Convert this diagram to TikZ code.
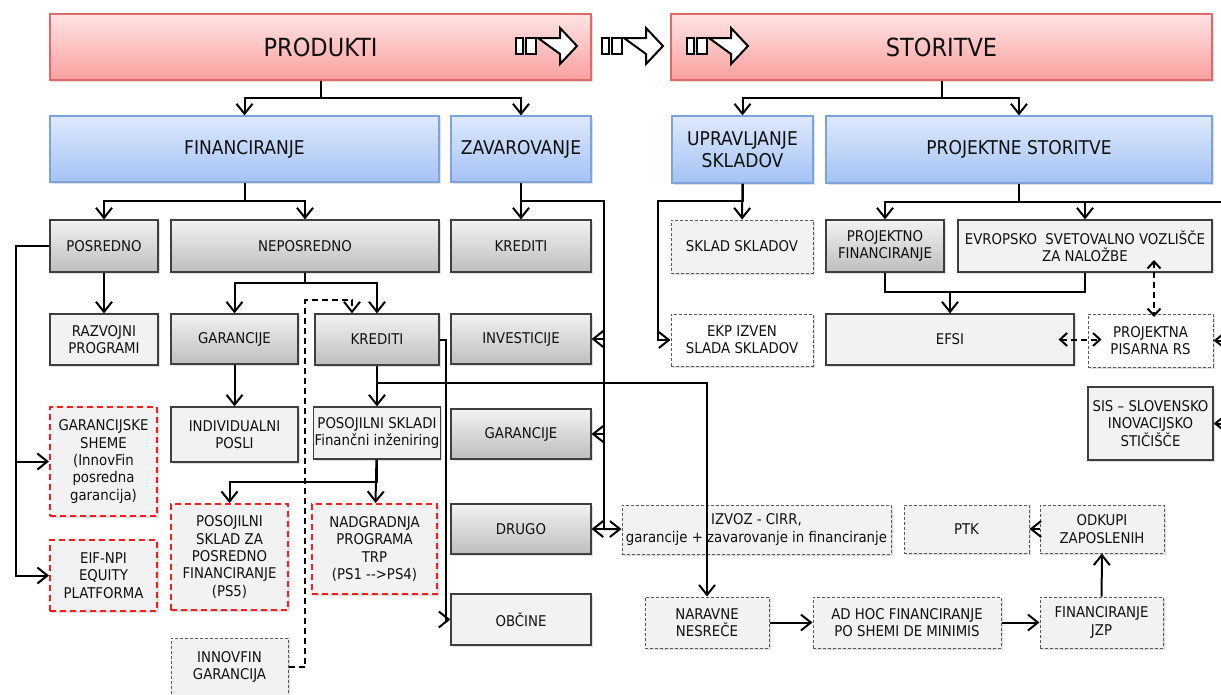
\documentclass[tikz,border=0pt]{standalone}
\usepackage{fontspec}
\setmainfont{DejaVu Sans Condensed}
\usepackage{tikz}
\usetikzlibrary{arrows.meta,shadows}
\usepackage{xcolor}

\definecolor{pinktop}{HTML}{FFE3E3}
\definecolor{pinkbot}{HTML}{FBA0A0}
\definecolor{pinkline}{HTML}{E06A6A}
\definecolor{bluetop}{HTML}{DEE9FC}
\definecolor{bluebot}{HTML}{A4C2F4}
\definecolor{blueline}{HTML}{7EA3DA}
\definecolor{graytop}{HTML}{F2F2F2}
\definecolor{graybot}{HTML}{BEBEBE}
\definecolor{boxline}{HTML}{3F3F3F}
\definecolor{boxfill}{HTML}{F2F2F2}
\definecolor{dashline}{HTML}{5A5A5A}
\definecolor{reddash}{HTML}{FF1A1A}
\definecolor{txt}{HTML}{101010}

\newcommand{\blockarrow}[2]{%
  \begin{scope}[shift={(#1,#2)}]
    \draw[arrowsym] (0,-8) rectangle (7,8);
    \draw[arrowsym] (10,-8) rectangle (20,8);
    \draw[arrowsym] (22,-8) -- (44,-8) -- (44,-18) -- (61,0) -- (44,18) -- (44,8) -- cycle;
  \end{scope}}

\begin{document}
\begin{tikzpicture}[x=1pt,y=-1pt,
    base/.style={rectangle, align=center, inner sep=1pt, text=txt,
      font=\fontsize{14.8}{17.4}\selectfont,
      drop shadow={shadow xshift=2pt,shadow yshift=-2pt,opacity=0.25}},
    sz/.style 2 args={minimum width=#1pt, minimum height=#2pt},
    mainbox/.style={base, draw=pinkline, line width=1.2pt, top color=pinktop, bottom color=pinkbot,
      font=\fontsize{25}{30}\selectfont},
    groupbox/.style={base, draw=blueline, line width=1.2pt, top color=bluetop, bottom color=bluebot,
      font=\fontsize{19}{22.5}\selectfont},
    gradbox/.style={base, draw=boxline, line width=1.2pt, top color=graytop, bottom color=graybot},
    flatbox/.style={base, draw=boxline, line width=1.2pt, fill=boxfill},
    dashbox/.style={base, draw=dashline, line width=1pt, dash pattern=on 3pt off 2pt, fill=boxfill},
    whitebox/.style={dashbox, fill=white},
    redbox/.style={base, draw=reddash, line width=2pt, dash pattern=on 6pt off 4pt, fill=boxfill},
    arr/.style={-{Straight Barb[length=10pt,width=16pt]}, line width=2pt},
    darr/.style={{Straight Barb[length=7pt,width=13pt]}-{Straight Barb[length=7pt,width=13pt]},
      line width=2pt, dash pattern=on 6pt off 4pt},
    arrowsym/.style={line width=2pt, fill=white}]
   \useasboundingbox (0,0) rectangle (1221,694);
   \clip (0,0) rectangle (1221,694);
   \fill[white] (0,0) rectangle (1221,694);

   \node[mainbox, sz={541}{66}] (produkti) at (320.5,47) {PRODUKTI};
   \node[mainbox, sz={541}{66}] (storitve) at (941.5,47) {STORITVE};
   \blockarrow{516}{46}
   \blockarrow{602}{46}
   \blockarrow{687}{46}

   \node[groupbox, sz={389}{66}] (financiranje) at (244.5,149) {FINANCIRANJE};
   \node[groupbox, sz={140}{66}] (zavarovanje) at (521,149) {ZAVAROVANJE};
   \node[groupbox, sz={141}{67}] (upravljanje) at (742.5,149.5) {UPRAVLJANJE\\SKLADOV};
   \node[groupbox, sz={386}{67}] (projektne) at (1019,149.5) {PROJEKTNE STORITVE};

   \node[gradbox, sz={108}{52}] (posredno) at (104,246) {POSREDNO};
   \node[gradbox, sz={268}{52}] (neposredno) at (305,246) {NEPOSREDNO};
   \node[gradbox, sz={140}{52}] (kreditiz) at (521,246) {KREDITI};
   \node[dashbox, sz={142}{53}] (skladskladov) at (742,246.5) {SKLAD SKLADOV};
   \node[gradbox, sz={118}{52}] (projfin) at (885,246) {PROJEKTNO\\FINANCIRANJE};
   \node[flatbox, sz={254}{52}] (evropsko) at (1085,246) {EVROPSKO\ \ SVETOVALNO VOZLIŠČE\\ZA NALOŽBE};

   \node[flatbox, sz={108}{51}] (razvojni) at (104,339.5) {RAZVOJNI\\PROGRAMI};
   \node[gradbox, sz={127}{50}] (garancije) at (234.5,339) {GARANCIJE};
   \node[gradbox, sz={124}{51}] (krediti) at (377,339.5) {KREDITI};
   \node[gradbox, sz={140}{50}] (investicije) at (521,339) {INVESTICIJE};
   \node[whitebox, sz={142}{52}] (ekp) at (742,340) {EKP IZVEN\\SLADA SKLADOV};
   \node[flatbox, sz={248}{51}] (efsi) at (950,339.5) {EFSI};
   \node[whitebox, sz={125}{53}] (pisarna) at (1150.5,340.5) {PROJEKTNA\\PISARNA RS};

   \node[redbox, sz={107}{109}] (garsheme) at (103.5,461.5) {GARANCIJSKE\\SHEME\\(InnovFin\\posredna\\garancija)};
   \node[flatbox, sz={127}{55}] (individualni) at (234.5,434.5) {INDIVIDUALNI\\POSLI};
   \node[flatbox, sz={124}{52}] (posojilni) at (377,433) {POSOJILNI SKLADI\\Finančni inženiring};
   \node[gradbox, sz={140}{50}] (garancijez) at (521,434) {GARANCIJE};
   \node[flatbox, sz={125}{73}] (sis) at (1150.5,423.5) {SIS – SLOVENSKO\\INOVACIJSKO\\STIČIŠČE};

   \node[redbox, sz={107}{71}] (eif) at (103.5,575.5) {EIF-NPI\\EQUITY\\PLATFORMA};
   \node[redbox, sz={117}{106}] (sklad5) at (229.5,557) {POSOJILNI\\SKLAD ZA\\POSREDNO\\FINANCIRANJE\\(PS5)};
   \node[redbox, sz={125}{90}] (nadgradnja) at (374.5,549) {NADGRADNJA\\PROGRAMA\\TRP\\(PS1 -{}-{}>PS4)};
   \node[gradbox, sz={140}{50}] (drugo) at (521,529) {DRUGO};
   \node[dashbox, sz={269}{49}] (izvoz) at (756.5,529.5) {IZVOZ - CIRR,\\garancije + zavarovanje in financiranje};
   \node[dashbox, sz={125}{48}] (ptk) at (966.5,529) {PTK};
   \node[dashbox, sz={124}{48}] (odkupi) at (1102,529) {ODKUPI\\ZAPOSLENIH};

   \node[flatbox, sz={140}{51}] (obcine) at (521,619.5) {OBČINE};
   \node[dashbox, sz={117}{58}] (innovfin) at (229.5,667) {INNOVFIN\\GARANCIJA};
   \node[dashbox, sz={124}{51}] (naravne) at (707,622.5) {NARAVNE\\NESREČE};
   \node[dashbox, sz={188}{51}] (adhoc) at (907,622.5) {AD HOC FINANCIRANJE\\PO SHEMI DE MINIMIS};
   \node[dashbox, sz={123}{51}] (jzp) at (1101.5,622.5) {FINANCIRANJE\\JZP};

   \coordinate (zbus) at (604,529);
   \coordinate (dtop) at (305,300);
   \coordinate (pjoin) at (950,292);
   \coordinate (evtip) at (1154,260);
   \coordinate (pistip) at (1154,317);

   \draw[arr] (produkti.south) -- ++(0,17) -| (financiranje);
   \draw[arr] (produkti.south) -- ++(0,17) -| (zavarovanje);
   \draw[arr] (storitve.south) -- ++(0,17) -| (upravljanje);
   \draw[arr] (storitve.south) -- ++(0,17) -| (projektne);
   \draw[arr] (financiranje.south) -- ++(0,18) -| (posredno);
   \draw[arr] (financiranje.south) -- ++(0,18) -| (neposredno);
   \draw[arr] (zavarovanje) -- (kreditiz);
   \draw[line width=2pt] (zavarovanje.south) -- ++(0,18) -| (zbus);
   \draw[arr] (zbus |- investicije) -- (investicije);
   \draw[arr] (zbus |- garancijez) -- (garancijez);
   \draw[arr] (zbus) -- (drugo);
   \draw[arr] (zbus) -- (izvoz);

   \draw[arr] (posredno) -- (razvojni);
   \draw[arr] (posredno.west) -- ++(-33,0) |- (garsheme);
   \draw[arr] (posredno.west) -- ++(-33,0) |- (eif);
   \draw[arr] (neposredno.south) -- ++(0,10) -| (garancije);
   \draw[arr] (neposredno.south) -- ++(0,10) -| (krediti);
   \draw[arr] (garancije) -- (individualni);
   \draw[arr] (krediti) -- (posojilni);
   \draw[arr] (krediti.south) -- ++(0,17) -| (naravne);
   \draw[arr] (krediti.east) -- ++(6,0) |- (obcine);
   \draw[arr] (posojilni.south) -- ++(0,22) -| (sklad5);
   \draw[arr] (posojilni) -- (nadgradnja);
   \draw[arr, dash pattern=on 6pt off 4pt] (innovfin.east) -| (dtop) -| ([xshift=-25pt]krediti.north);

   \draw[arr] (upravljanje) -- (skladskladov);
   \draw[arr] (upravljanje.south) -- ++(0,17) -| ([xshift=-13pt]ekp.west) -- (ekp);
   \draw[arr] (projektne.south) -- ++(0,18) -| (projfin);
   \draw[arr] (projektne.south) -- ++(0,18) -| (evropsko);
   \draw[line width=2pt] (projektne.south) -- ++(0,18) -- ++(220,0);
   \draw[line width=2pt] (projfin) |- (pjoin) -| (evropsko);
   \draw[arr] (pjoin) -- (efsi);
   \draw[darr] ([xshift=-16pt]efsi.east) -- ([xshift=14pt]pisarna.west |- efsi.east);
   \draw[darr] (evtip) -- (pistip);
   \draw[arr] ([xshift=12pt]pisarna.east) -- (pisarna);
   \draw[arr] ([xshift=12pt]sis.east) -- (sis);

   \draw[arr] (naravne) -- (adhoc);
   \draw[arr] (adhoc) -- (jzp);
   \draw[arr] (jzp) -- (odkupi);
   \draw[arr] (odkupi) -- (ptk);
\end{tikzpicture}
\end{document}
